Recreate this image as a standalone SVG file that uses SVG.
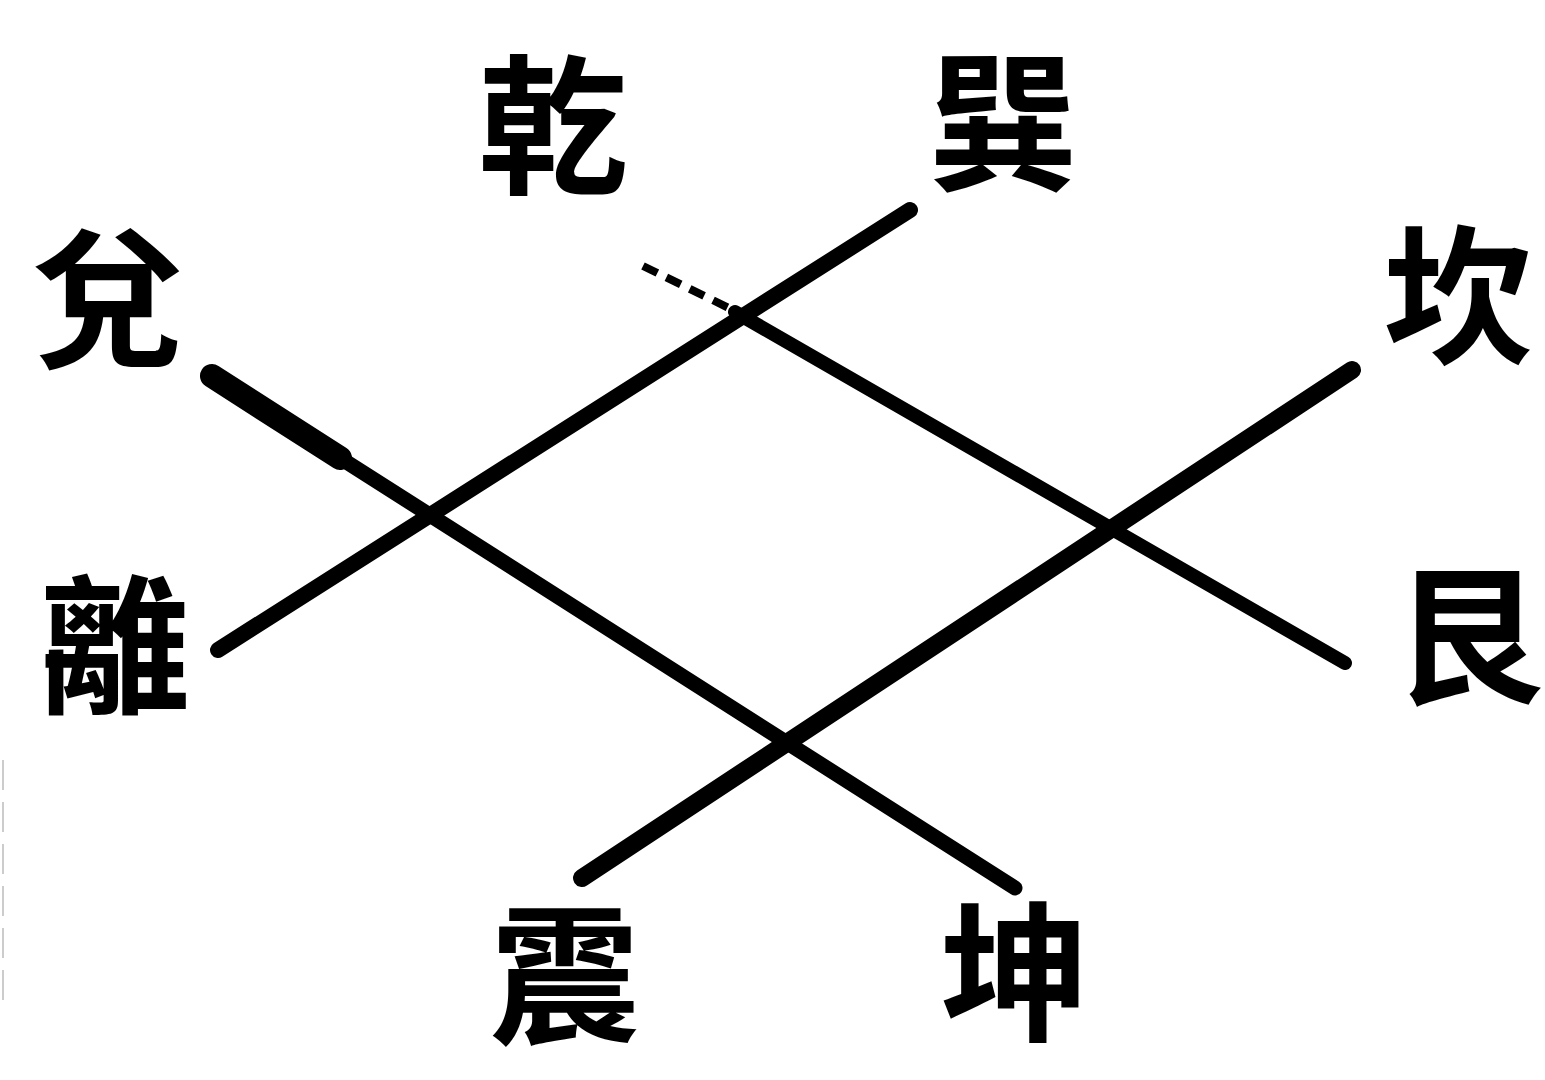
<svg xmlns="http://www.w3.org/2000/svg" width="1545" height="1080" viewBox="0 0 1545 1080">
<style>
.t{font-family:"Noto Sans CJK TC","Noto Sans CJK SC",sans-serif;font-size:150px;font-weight:700;fill:#000;text-anchor:middle}
.l{stroke:#000;stroke-linecap:round;fill:none}
</style>
<rect width="1545" height="1080" fill="#fff"/>
<g id="connectors">
<line class="l" x1="910" y1="210" x2="218" y2="650" stroke-width="16"/>
<line class="l" x1="210" y1="375" x2="1015" y2="888" stroke-width="15"/>
<line class="l" x1="212" y1="376" x2="340" y2="458" stroke-width="24"/>
<line class="l" x1="1352" y1="370" x2="582" y2="878" stroke-width="18"/>
<line class="l" x1="735" y1="312" x2="1345" y2="663" stroke-width="14"/>
<path d="M643,266 L733,310" stroke="#000" stroke-width="8" stroke-dasharray="16,10" fill="none"/>
<line x1="3" y1="760" x2="3" y2="1000" stroke="#ccc" stroke-width="2" stroke-dasharray="30,12"/>
</g>
<g id="n-qian"><text class="t" x="553" y="182">乾</text></g>
<g id="n-xun"><text class="t" x="1003" y="179">巽</text></g>
<g id="n-dui"><text class="t" x="108" y="355">兌</text></g>
<g id="n-kan"><text class="t" x="1458" y="352">坎</text></g>
<g id="n-li"><text class="t" x="115" y="702">離</text></g>
<g id="n-gen"><text class="t" x="1468" y="692">艮</text></g>
<g id="n-zhen"><text class="t" x="565" y="1032">震</text></g>
<g id="n-kun"><text class="t" x="1015" y="1029">坤</text></g>
</svg>
